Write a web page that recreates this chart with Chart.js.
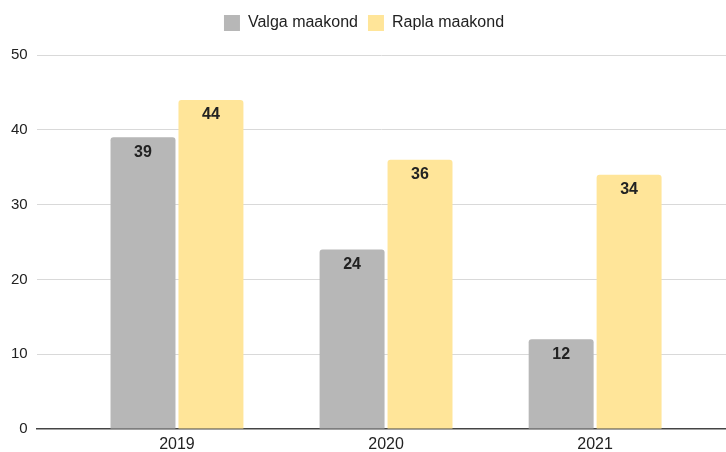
<!DOCTYPE html>
<html>
<head>
<meta charset="utf-8">
<script src="https://cdn.jsdelivr.net/npm/chart.js@4/dist/chart.umd.min.js"></script>
<style>
  html, body { margin: 0; padding: 0; background: #fff; }
  #wrap { width: 726px; height: 452px; }
</style>
</head>
<body>
<div id="wrap"><canvas id="chart"></canvas></div>
<script>
  var years = [2019, 2020, 2021];
  var valga = [39, 24, 12];
  var rapla = [44, 36, 34];
  var yTicks = [0, 10, 20, 30, 40, 50];

  var textColor = "#222";
  var fontFamily = "'Liberation Sans', Arial, sans-serif";

  // draws the value inside the top of each bar
  var valueLabels = {
    id: "valueLabels",
    afterDatasetsDraw: function (chart) {
      var ctx = chart.ctx;
      ctx.save();
      ctx.font = "bold 16px " + fontFamily;
      ctx.fillStyle = textColor;
      ctx.textAlign = "center";
      ctx.textBaseline = "middle";
      chart.data.datasets.forEach(function (ds, i) {
        chart.getDatasetMeta(i).data.forEach(function (bar, j) {
          ctx.fillText(ds.data[j], bar.x, bar.y + 15);
        });
      });
      ctx.restore();
    },
  };

  // more room under the legend
  var legendGap = {
    id: "legendGap",
    beforeInit: function (chart) {
      var fit = chart.legend.fit;
      chart.legend.fit = function () {
        fit.call(this);
        this.height += 14;
      };
    },
  };

  var ctx = document.getElementById("chart").getContext("2d");
  new Chart(ctx, {
    type: "bar",
    data: {
      labels: years,
      datasets: [
        {
          label: "Valga maakond",
          data: valga,
          backgroundColor: "#b7b7b7",
          borderRadius: { topLeft: 3, topRight: 3 },
          borderSkipped: "bottom",
        },
        {
          label: "Rapla maakond",
          data: rapla,
          backgroundColor: "#ffe599",
          borderRadius: { topLeft: 3, topRight: 3 },
          borderSkipped: "bottom",
        },
      ],
    },
    options: {
      responsive: true,
      maintainAspectRatio: false,
      animation: false,
      categoryPercentage: 0.65,
      barPercentage: 0.956,
      layout: {
        padding: { top: 5, left: 2, right: 0, bottom: 0 },
      },
      plugins: {
        legend: {
          position: "top",
          labels: {
            boxWidth: 16,
            boxHeight: 16,
            padding: 10,
            color: textColor,
            font: { family: fontFamily, size: 16 },
          },
        },
        tooltip: { enabled: false },
      },
      scales: {
        x: {
          type: "linear",
          offset: false,
          min: years[0] - 0.671,
          max: years[years.length - 1] + 0.626,
          afterBuildTicks: function (scale) {
            scale.ticks = years.map(function (v) {
              return { value: v };
            });
          },
          afterFit: function (scale) {
            scale.height = 23;
          },
          grid: { display: false, drawTicks: false },
          border: { display: true, color: "#444", width: 1.5 },
          ticks: {
            padding: 6,
            color: textColor,
            font: { family: fontFamily, size: 16 },
            callback: function (v) {
              return String(v);
            },
          },
        },
        y: {
          min: yTicks[0],
          max: yTicks[yTicks.length - 1],
          afterBuildTicks: function (scale) {
            scale.ticks = yTicks.map(function (v) {
              return { value: v };
            });
          },
          border: { display: false },
          grid: {
            drawTicks: false,
            color: function (c) {
              return c.tick && c.tick.value === 0 ? "rgba(0,0,0,0)" : "#d9d9d9";
            },
          },
          ticks: {
            padding: 9,
            color: textColor,
            font: { family: fontFamily, size: 15 },
          },
        },
      },
    },
    plugins: [valueLabels, legendGap],
  });
</script>
</body>
</html>
